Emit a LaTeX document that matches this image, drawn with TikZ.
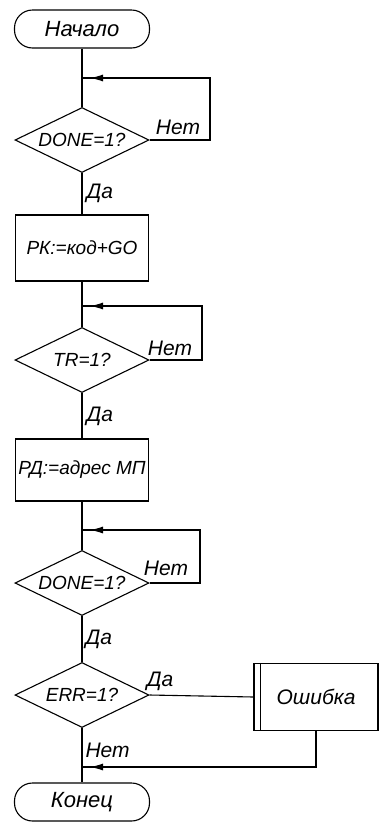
\documentclass[tikz,border=0pt]{standalone}
\usepackage{fontspec}
\setmainfont{Liberation Sans}
\usetikzlibrary{shapes.geometric, arrows.meta}
\tikzset{
  term/.style = {draw, rectangle, rounded corners=18pt, minimum width=135pt,
                 minimum height=38pt, inner sep=0pt,
                 font=\itshape\fontsize{22}{26}\selectfont},
  blk/.style  = {draw, rectangle, minimum width=133pt, minimum height=66pt,
                 inner sep=0pt},
  cond/.style = {draw, diamond, minimum width=134pt, minimum height=65pt,
                 inner sep=0pt, execute at begin node={\hbox to 0pt\bgroup\hss},
                 execute at end node={\hss\egroup}},
  lbl/.style  = {font=\itshape\fontsize{21}{24}\selectfont, inner sep=1pt},
  ar/.style   = {-{Latex[length=13pt,width=7pt]}},
}

\begin{document}
\begin{tikzpicture}[x=1pt, y=-1pt, line width=1.1pt,
    every node/.style={font=\itshape\fontsize{19}{22}\selectfont}]
  \useasboundingbox (0,0) rectangle (380,828);
  % main column
  \node[term] (start) at (82,29) {Начало};
  \coordinate (j1) at (82,78);
  \node[cond] (done1) at (82,140) {DONE=1?};
  \node[blk] (rk) at (82,248) {РК:=код+GO};
  \coordinate (j2) at (82,306);
  \node[cond] (tr) at (82,360) {TR=1?};
  \node[blk, minimum height=62pt] (rd) at (82,470) {РД:=адрес МП};
  \coordinate (j3) at (82,530);
  \node[cond] (done2) at (82,583) {DONE=1?};
  \node[cond] (err) at (82,695) {ERR=1?};
  \node[blk, minimum width=124pt, minimum height=67pt,
        font=\itshape\fontsize{21}{24}\selectfont] (fail) at (316,697) {Ошибка};
  \coordinate (j4) at (82,767);
  \node[term] (end) at (82,802) {Конец};
  % turning points of the loops
  \coordinate (r1) at (210,78);
  \coordinate (r2) at (202,306);
  \coordinate (r3) at (200,530);
  \coordinate (r4) at (316,767);
  % labels
  \node[lbl] (no1) at (178,127) {Нет};
  \node[lbl] (no2) at (170,348) {Нет};
  \node[lbl] (no3) at (166,568) {Нет};
  \node[lbl, anchor=west] (no4) at (84,750) {Нет};
  \node[lbl, anchor=west] (yes1) at (85,193) {Да};
  \node[lbl, anchor=west] (yes2) at (85,416) {Да};
  \node[lbl, anchor=west] (yes3) at (84,639) {Да};
  \node[lbl] (yes4) at (160,681) {Да};

  \draw (start) -- (done1);
  \draw (done1) -- (rk);
  \draw (rk) -- (tr);
  \draw (tr) -- (rd);
  \draw (rd) -- (done2);
  \draw (done2) -- (err);
  \draw (err) -- (end);
  % loops back
  \draw (done1.east) -| (r1) -- (j1);
  \draw[ar] (r1) -- ([xshift=8pt]j1);
  \draw (tr.east) -| (r2) -- (j2);
  \draw[ar] (r2) -- ([xshift=8pt]j2);
  \draw (done2.east) -| (r3) -- (j3);
  \draw[ar] (r3) -- ([xshift=8pt]j3);
  % error branch
  \draw (err.east) -- (fail.west);
  \draw ([xshift=7pt]fail.north west) -- ([xshift=7pt]fail.south west);
  \draw (fail.south) -- (r4) -- (j4);
  \draw[ar] (r4) -- ([xshift=8pt]j4);
\end{tikzpicture}
\end{document}
